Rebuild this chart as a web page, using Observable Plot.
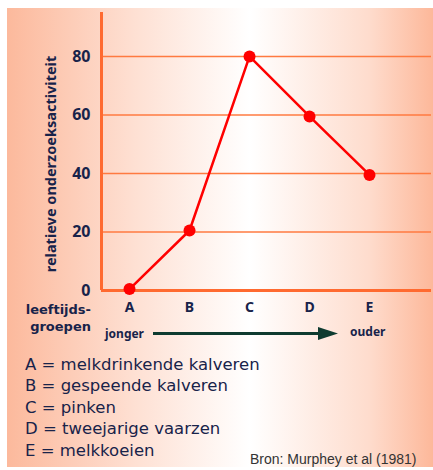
<!DOCTYPE html>
<html>
<head>
<meta charset="utf-8">
<script src="https://cdn.jsdelivr.net/npm/d3@7"></script>
<script src="https://cdn.jsdelivr.net/npm/@observablehq/plot@0.6"></script>
<style>
  html, body { margin: 0; padding: 0; background: #fff; }
  #wrap { position: relative; width: 433px; height: 470px; overflow: hidden; font-family: "Noto Sans", sans-serif; color: #18234a; }
  #panel { position: absolute; left: 7px; top: 8px; width: 426px; height: 459px;
    background: linear-gradient(to right, #fcb99c 0%, #fee0d3 30%, #ffffff 57%, #fedccd 85%, #fdb89a 100%); }
  #chart { position: absolute; left: 0; top: 0; }
  .abs { position: absolute; white-space: nowrap; }
  .bold { font-weight: 700; }
</style>
</head>
<body>
<div id="wrap">
  <div id="panel"></div>
  <div id="chart"></div>
</div>
<script>
const categories = ["A", "B", "C", "D", "E"];
const activity = [0.5, 20.5, 80, 59.5, 39.5];
const yTicks = [0, 20, 40, 60, 80];
const yLabel = "relatieve onderzoeksactiviteit";
const xTitle = ["leeftijds-", "groepen"];
const arrowLabels = ["jonger", "ouder"];
const legendLines = [
  "A = melkdrinkende kalveren",
  "B = gespeende kalveren",
  "C = pinken",
  "D = tweejarige vaarzen",
  "E = melkkoeien"
];
const source = "Bron: Murphey et al (1981)";

const data = categories.map((c, i) => ({i, c, v: activity[i]}));
const xDomain = [-0.467, 5.033];
const navy = "#18234a";

const plot = Plot.plot({
  width: 433,
  height: 345,
  marginLeft: 101,
  marginRight: 2,
  marginTop: 12,
  marginBottom: 55,
  style: {background: "transparent", overflow: "visible", fontFamily: "Noto Sans, sans-serif"},
  x: {type: "linear", domain: xDomain},
  y: {domain: [0, 95]},
  marks: [
    Plot.ruleY(yTicks.filter(d => d > 0), {stroke: "#ff7a40", strokeWidth: 1.5}),
    Plot.ruleY([0], {stroke: "#ff6a30", strokeWidth: 3}),
    Plot.ruleX([xDomain[0]], {y1: 0, y2: 95, stroke: "#ff6a30", strokeWidth: 3}),
    Plot.axisY({ticks: yTicks, tickSize: 0, tickPadding: 11, fontSize: 16, fontWeight: "bold", fill: navy, label: null}),
    Plot.axisX({ticks: categories.map((c, i) => i), tickFormat: i => categories[i], tickSize: 0, tickPadding: 12, fontSize: 14, fontWeight: "bold", fill: navy, label: null}),
    Plot.line(data, {x: "i", y: "v", stroke: "#ff0000", strokeWidth: 2.5}),
    Plot.dot(data, {x: "i", y: "v", r: 6, fill: "#ff0000"})
  ]
});
document.getElementById("chart").appendChild(plot);

const wrap = document.getElementById("wrap");
function addText(txt, css, cls) {
  const d = document.createElement("div");
  d.className = "abs " + (cls || "");
  d.textContent = txt;
  Object.assign(d.style, css);
  wrap.appendChild(d);
  return d;
}
// rotated y label
addText(yLabel, {left: "50px", top: "164px", fontSize: "14.5px", lineHeight: "16px", transform: "translate(-50%, -50%) rotate(-90deg)", color: navy}, "bold");
// x title
addText(xTitle[0], {right: (433 - 91) + "px", top: "302px", fontSize: "13px", lineHeight: "15px", color: navy, fontFamily: "DejaVu Sans, sans-serif"}, "bold");
addText(xTitle[1], {right: (433 - 91) + "px", top: "319px", fontSize: "13px", lineHeight: "15px", color: navy, fontFamily: "DejaVu Sans, sans-serif"}, "bold");
addText(arrowLabels[0], {left: "105px", top: "327px", fontSize: "12px", lineHeight: "14px", color: navy}, "bold");
addText(arrowLabels[1], {left: "350px", top: "325px", fontSize: "12px", lineHeight: "14px", color: navy}, "bold");

// arrow
const ns = "http://www.w3.org/2000/svg";
const svg = document.createElementNS(ns, "svg");
svg.setAttribute("width", 433); svg.setAttribute("height", 470);
svg.style.position = "absolute"; svg.style.left = "0"; svg.style.top = "0"; svg.style.pointerEvents = "none";
const ln = document.createElementNS(ns, "line");
ln.setAttribute("x1", 153); ln.setAttribute("x2", 322); ln.setAttribute("y1", 333.5); ln.setAttribute("y2", 333.5);
ln.setAttribute("stroke", "#0e3b30"); ln.setAttribute("stroke-width", 3);
svg.appendChild(ln);
const hd = document.createElementNS(ns, "path");
hd.setAttribute("d", "M318,327 L338,333.5 L318,340 Z");
hd.setAttribute("fill", "#0e3b30");
svg.appendChild(hd);
wrap.appendChild(svg);

// legend
legendLines.forEach((t, k) => {
  addText(t, {left: "25px", top: (355 + k * 21.4) + "px", fontSize: "16.5px", lineHeight: "20px", color: navy, fontFamily: "DejaVu Sans, sans-serif"});
});
addText(source, {left: "250px", top: "450px", fontSize: "14px", lineHeight: "18px", color: "#333", fontFamily: "Liberation Sans, Arial, sans-serif"});
</script>
</body>
</html>
